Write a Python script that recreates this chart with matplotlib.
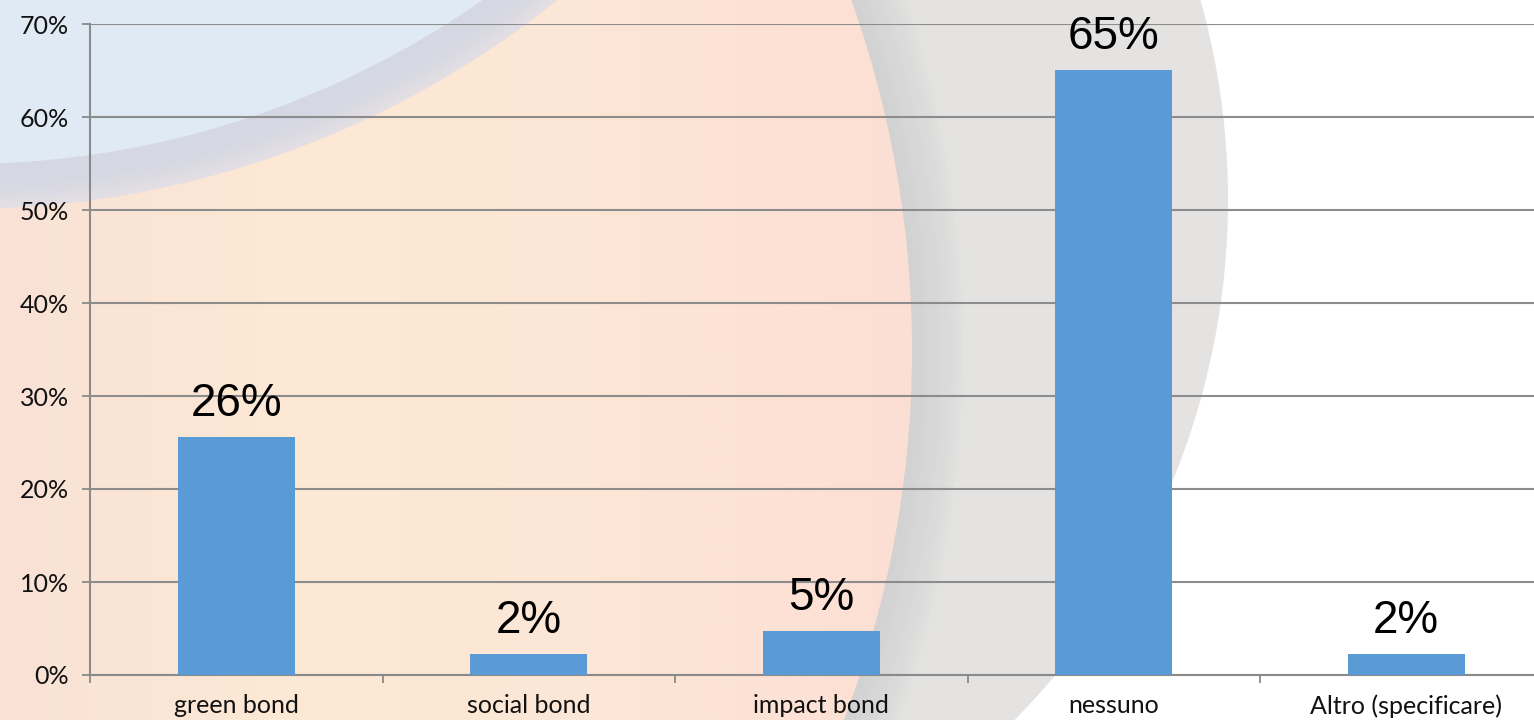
import numpy as np
import matplotlib
matplotlib.use("Agg")
import matplotlib.pyplot as plt
from matplotlib.patches import Circle
from matplotlib.colors import to_rgb

# ---- data ----
categories = ["green bond", "social bond", "impact bond", "nessuno", "Altro (specificare)"]
values = [25.6, 2.3, 4.7, 65.1, 2.3]
labels = ["26%", "2%", "5%", "65%", "2%"]
yticks = [0, 10, 20, 30, 40, 50, 60, 70]
ytick_labels = ["0%", "10%", "20%", "30%", "40%", "50%", "60%", "70%"]

W, H = 1534, 720
fig = plt.figure(figsize=(W / 100, H / 100), dpi=100)
fig.patch.set_facecolor("white")

# ---- decorative background ----
bg = fig.add_axes([0, 0, 1, 1], zorder=0)
bg.set_xlim(0, W)
bg.set_ylim(H, 0)
bg.axis("off")


def mix(c1, c2, t):
    a, b = np.array(to_rgb(c1)), np.array(to_rgb(c2))
    return tuple(a + (b - a) * t)


# light grey disc
bg.add_patch(Circle((488, 200), 740, facecolor="#e4e3e2", edgecolor="none", zorder=1))
# soft grey band around the peach sphere
pc, pr = (-128, 350), 1040
n = 12
for i in range(n):
    t = i / (n - 1)
    r = pr + 55 * (1 - t)
    col = mix("#e2e2e1", "#d1d1d1", t ** 0.7)
    bg.add_patch(Circle(pc, r, facecolor=col, edgecolor="none", zorder=2))
peach = Circle(pc, pr, facecolor="none", edgecolor="none", zorder=3)
bg.add_patch(peach)
stops_x = [0, 300, 600, 920]
stops_c = [to_rgb("#f9e2d6"), to_rgb("#fde9d5"), to_rgb("#fce6d6"), to_rgb("#fcdfd4")]
xs = np.linspace(0, 950, 400)
grad = np.zeros((1, len(xs), 3))
for k in range(3):
    grad[0, :, k] = np.interp(xs, stops_x, [c[k] for c in stops_c])
im = bg.imshow(grad, extent=(0, 950, H, 0), aspect="auto", zorder=3)
im.set_clip_path(peach)
# blue cap with soft lavender band
bc, br = (-37, -741), 905
for i in range(n):
    t = i / (n - 1)
    r = br + 45 * (1 - t)
    col = mix("#e2dee3", "#d5d7e2", min(1, 2 * t))
    bg.add_patch(Circle(bc, r, facecolor=col, edgecolor="none", zorder=4))
bg.add_patch(Circle(bc, br, facecolor="#dfeaf4", edgecolor="none", zorder=5))

# ---- chart ----
ax = fig.add_axes([90 / W, 45 / H, 1462.5 / W, 651 / H], zorder=1)
ax.set_facecolor("none")
x = np.arange(len(categories))
ax.bar(x, values, width=0.4, color="#5b9bd5", zorder=3)

ax.set_xlim(-0.5, len(categories) - 0.5)
ax.set_ylim(0, 70)
ax.set_yticks(yticks)
ax.set_yticklabels(ytick_labels, fontsize=18, family="Lato", color="#111111")
ax.set_xticks(x)
ax.set_xticklabels(categories, fontsize=18, family="Lato", color="#111111")
ax.set_xticks(np.arange(len(categories) + 1) - 0.5, minor=True)
ax.tick_params(axis="x", which="major", length=0, pad=14)
ax.tick_params(axis="x", which="minor", length=6, width=1.3, color="#8a8a8a", direction="out")
ax.tick_params(axis="y", length=6, width=1.3, color="#8a8a8a", direction="out", pad=9)

ax.grid(axis="y", color="#8c8c8c", linewidth=1.5, zorder=1)
ax.set_axisbelow(True)
for s in ["top", "right"]:
    ax.spines[s].set_visible(False)
for s in ["left", "bottom"]:
    ax.spines[s].set_color("#8a8a8a")
    ax.spines[s].set_linewidth(1.5)

for xi, v, lab in zip(x, values, labels):
    ax.annotate(lab, (xi, v), xytext=(0, 15), textcoords="offset points",
                ha="center", va="baseline", fontsize=33, family="Liberation Sans",
                color="black", zorder=4, annotation_clip=False)

fig.savefig("out.png", dpi=100)
